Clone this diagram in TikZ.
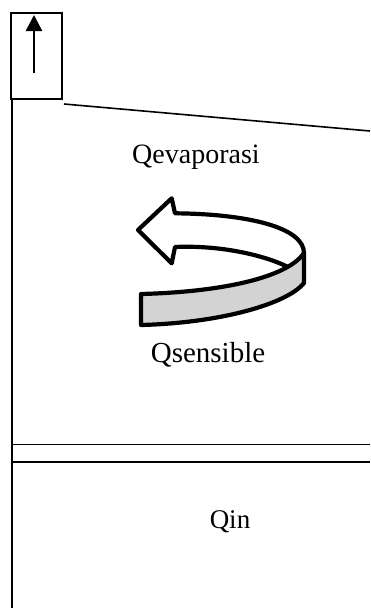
\documentclass[tikz,border=0pt]{standalone}
\usepackage{fontspec}
\setmainfont{Liberation Serif}
\usetikzlibrary{arrows.meta}
\definecolor{bandgray}{RGB}{211,211,211}
\begin{document}
\begin{tikzpicture}[x=1pt,y=-1pt,
  lbl/.style={anchor=base,inner sep=0pt},
  wall/.style={line width=2pt},
  turnshape/.style={line width=4.2pt,line join=round}]
\useasboundingbox (0,0) rectangle (370,608);
% small box with upward arrow
\node[draw,line width=2pt,minimum width=51pt,minimum height=86pt,inner sep=0pt] (box) at (36.5,56) {};
\coordinate (arrS) at (34,73);
\coordinate (arrE) at (34,15);
\draw[line width=2.5pt,-{Triangle[length=16pt,width=16pt]}] (arrS) -- (arrE);
% left wall
\coordinate (wallT) at (11.5,99);
\coordinate (wallB) at (11.5,608);
\draw[wall] (wallT) -- (wallB);
% slanted surface
\coordinate (slA) at (64,104);
\coordinate (slB) at (370,131);
\draw[line width=1.6pt] (slA) -- (slB);
% horizontal lines
\coordinate (h1A) at (11,444.5);
\coordinate (h1B) at (370,444.5);
\coordinate (h2A) at (11,462);
\coordinate (h2B) at (370,462);
\draw[line width=1.5pt] (h1A) -- (h1B);
\draw[line width=2.3pt] (h2A) -- (h2B);
% labels
\node[lbl,font=\fontsize{28}{32}\selectfont] (qev) at (196,163) {Qevaporasi};
\node[lbl,font=\fontsize{29}{33}\selectfont] (qsen) at (208,362) {Qsensible};
\node[lbl,font=\fontsize{27}{31}\selectfont] (qin) at (230,528) {Qin};
% curved arrow: white part
\draw[turnshape,fill=white]
  (138,230) -- (171.7,198.3) -- (175,213.3)
  .. controls (250,214) and (304,228) .. (304,253)
  .. controls (301,258) and (296,264) .. (290,268)
  .. controls (265,255) and (220,245) .. (175,247)
  -- (171.7,263.3) -- cycle;
% gray band
\draw[turnshape,fill=bandgray]
  (141,294) .. controls (220,292) and (287,278) .. (304,253)
  -- (304,283)
  .. controls (287,304) and (220,323) .. (141,325)
  -- cycle;
\end{tikzpicture}
\end{document}
